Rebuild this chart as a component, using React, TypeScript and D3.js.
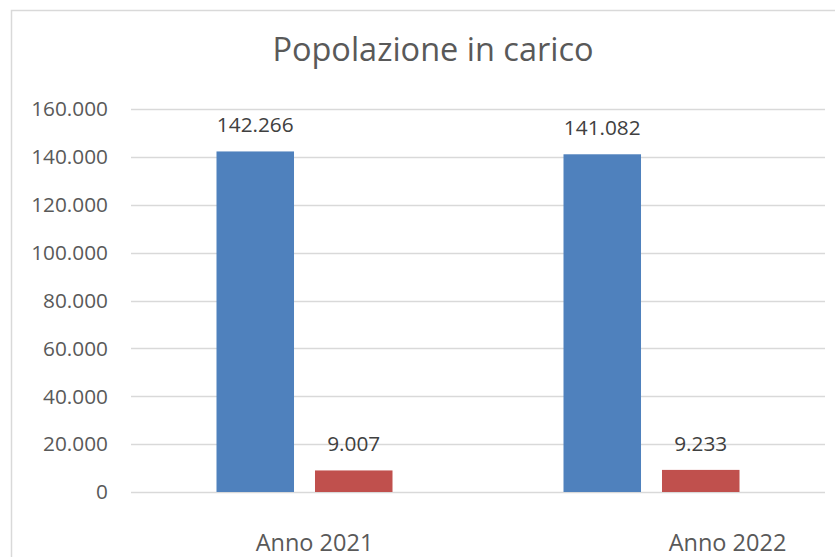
import React from "react";
import * as d3 from "d3";

const categories = ["Anno 2021", "Anno 2022"];
const seriesA = [142266, 141082];
const seriesB = [9007, 9233];
const yTicks = [0, 20000, 40000, 60000, 80000, 100000, 120000, 140000, 160000];
const title = "Popolazione in carico";

const W = 835;
const H = 557;
const FONT = "'Open Sans', 'Liberation Sans', sans-serif";

const fmt = (v: number) => d3.format(",")(v).replace(/,/g, ".");

export default function App() {
  const x = d3.scaleBand<string>().domain(categories).range([131, 825]).paddingInner(0).paddingOuter(0);
  const y = d3.scaleLinear().domain([0, 160000]).range([492, 109]);
  const inner = d3.scaleBand<string>().domain(["a", "b"]).range([0, 176]).paddingInner(0.213);
  const groupOffset = (x.bandwidth() - 176) / 2;
  const labelOffsets = [10, 76];

  return (
    <svg width={W} height={H} style={{ position: "absolute", left: 0, top: 0, background: "#fff" }}>
      <rect x={11.5} y={10.5} width={W + 20} height={H + 20} fill="#fff" stroke="#d9d9d9" strokeWidth={1.5} />
      <text x={433} y={61} textAnchor="middle" fontFamily={FONT} fontSize={32.5} fill="#595959">
        {title}
      </text>
      {yTicks.map((t) => (
        <g key={t}>
          <line x1={131} x2={825} y1={Math.round(y(t)) + 0.5} y2={Math.round(y(t)) + 0.5} stroke="#d9d9d9" strokeWidth={1.5} />
          <text x={108} y={y(t)} dy="0.35em" textAnchor="end" fontFamily={FONT} fontSize={20.8} fill="#595959">
            {fmt(t)}
          </text>
        </g>
      ))}
      {categories.map((c, i) => {
        const gx = (x(c) as number) + groupOffset;
        const ax = gx + (inner("a") as number);
        const bx = gx + (inner("b") as number);
        const bw = inner.bandwidth();
        return (
          <g key={c}>
            <rect x={ax} y={y(seriesA[i])} width={bw} height={y(0) - y(seriesA[i])} fill="#4f81bd" />
            <rect x={bx} y={y(seriesB[i])} width={bw} height={y(0) - y(seriesB[i])} fill="#c0504d" />
            <text x={ax + bw / 2} y={y(seriesA[i]) - 19} textAnchor="middle" fontFamily={FONT} fontSize={20.8} fill="#404040">
              {fmt(seriesA[i])}
            </text>
            <text x={bx + bw / 2} y={y(seriesB[i]) - 19} textAnchor="middle" fontFamily={FONT} fontSize={20.8} fill="#404040">
              {fmt(seriesB[i])}
            </text>
            <text
              x={(x(c) as number) + x.bandwidth() / 2 + labelOffsets[i]}
              y={551}
              textAnchor="middle"
              fontFamily={FONT}
              fontSize={23.5}
              fill="#595959"
            >
              {c}
            </text>
          </g>
        );
      })}
    </svg>
  );
}
